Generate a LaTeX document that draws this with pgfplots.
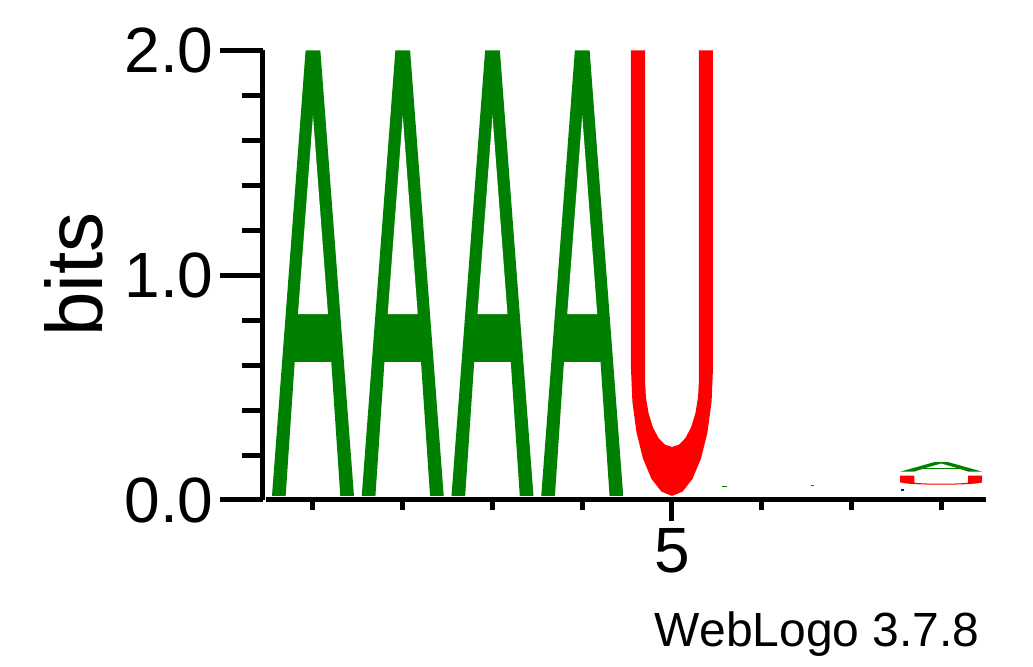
\documentclass[border=0pt]{standalone}
\usepackage{fontspec}
\setmainfont{Liberation Sans}
\usepackage{pgfplots}
\usepackage{pgfplotstable}
\pgfplotsset{compat=1.18}
\definecolor{wlgreen}{RGB}{0,128,0}
\definecolor{wlred}{RGB}{255,0,0}
\definecolor{wlblue}{RGB}{0,0,255}

% glyph outlines in letter-relative units (u across, v up)
\pgfplotstableread{
u v
0 0
0.167 0
0.277 0.301
0.723 0.301
0.833 0
1 0
0.59 1
0.41 1
}\glyphAout
\pgfplotstableread{
u v
0.317 0.408
0.683 0.408
0.5 0.854
}\glyphAhole
\pgfplotstableread{
u v
0 1
0 0.286
0.0170 0.2120
0.0670 0.1430
0.1464 0.0838
0.25 0.0383
0.3706 0.0098
0.5 0
0.6294 0.0098
0.75 0.0383
0.8536 0.0838
0.933 0.1430
0.983 0.2120
1 0.286
1 1
0.829 1
0.829 0.26
0.8178 0.2212
0.7849 0.185
0.7326 0.1539
0.6645 0.1301
0.5851 0.1151
0.5 0.11
0.4149 0.1151
0.3355 0.1301
0.2674 0.1539
0.2151 0.185
0.1822 0.2212
0.171 0.26
0.171 1
}\glyphU

\begin{document}
\begin{tikzpicture}[x=1pt,y=1pt]
\path[use as bounding box] (0,0) rectangle (516.5,333.5);
% y axis and letters
\begin{axis}[
  at={(131.25pt,83.5pt)}, anchor=south west,
  scale only axis, width=361.8pt, height=224.75pt,
  xmin=0.4375, xmax=8.5, ymin=0, ymax=2,
  clip=false, no markers,
  axis x line=none, axis y line*=left,
  y axis line style={-, line width=2.5pt, black},
  ytick={0,1,2}, yticklabels={0.0,1.0,2.0},
  minor ytick={0.2,0.4,0.6,0.8,1.2,1.4,1.6,1.8},
  tick align=outside,
  major tick length=21pt, minor tick length=10.5pt,
  every tick/.style={line width=2.5pt, black},
  yticklabel style={anchor=east, font=\fontsize{32}{38}\selectfont},
]
\addplot[fill=wlgreen, draw=none] table[x expr=\thisrow{u}*0.9137+0.54315, y expr=\thisrow{v}*1.982+0.018]{\glyphAout};
\addplot[fill=white, draw=none] table[x expr=\thisrow{u}*0.9137+0.54315, y expr=\thisrow{v}*1.982+0.018]{\glyphAhole};
\addplot[fill=wlgreen, draw=none] table[x expr=\thisrow{u}*0.9137+1.54315, y expr=\thisrow{v}*1.982+0.018]{\glyphAout};
\addplot[fill=white, draw=none] table[x expr=\thisrow{u}*0.9137+1.54315, y expr=\thisrow{v}*1.982+0.018]{\glyphAhole};
\addplot[fill=wlgreen, draw=none] table[x expr=\thisrow{u}*0.9137+2.54315, y expr=\thisrow{v}*1.982+0.018]{\glyphAout};
\addplot[fill=white, draw=none] table[x expr=\thisrow{u}*0.9137+2.54315, y expr=\thisrow{v}*1.982+0.018]{\glyphAhole};
\addplot[fill=wlgreen, draw=none] table[x expr=\thisrow{u}*0.9137+3.54315, y expr=\thisrow{v}*1.982+0.018]{\glyphAout};
\addplot[fill=white, draw=none] table[x expr=\thisrow{u}*0.9137+3.54315, y expr=\thisrow{v}*1.982+0.018]{\glyphAhole};
\addplot[fill=wlred, draw=none] table[x expr=\thisrow{u}*0.9137+4.54315, y expr=\thisrow{v}*1.982+0.018]{\glyphU};
% tiny letters at positions 6-8
\addplot[fill=wlgreen, draw=none] coordinates {(5.557,0.059) (5.613,0.059) (5.613,0.064) (5.557,0.064)};
\addplot[fill=wlred, draw=none] coordinates {(6.549,0.0636) (6.581,0.0636) (6.581,0.068) (6.549,0.068)};
\addplot[fill=wlblue, draw=none] coordinates {(7.552,0.038) (7.586,0.038) (7.586,0.047) (7.552,0.047)};
\addplot[fill=wlred, draw=none] table[x expr=\thisrow{u}*0.9137+7.54315, y expr=\thisrow{v}*0.040+0.068]{\glyphU};
\addplot[fill=wlgreen, draw=none] table[x expr=\thisrow{u}*0.9137+7.54315, y expr=\thisrow{v}*0.042+0.126]{\glyphAout};
\addplot[fill=white, draw=none] table[x expr=\thisrow{u}*0.9137+7.54315, y expr=\thisrow{v}*0.042+0.126]{\glyphAhole};
\end{axis}
% x axis
\begin{axis}[
  at={(132.85pt,83.5pt)}, anchor=south west,
  scale only axis, width=360.2pt, height=224.75pt,
  xmin=0.473, xmax=8.5, ymin=0, ymax=2,
  axis y line=none, axis x line*=bottom,
  x axis line style={-, line width=2.5pt, black},
  xtick={5}, xticklabels={5},
  minor xtick={1,2,3,4,6,7,8},
  tick align=outside,
  major tick length=10.5pt, minor tick length=5.25pt,
  every tick/.style={line width=2.5pt, black},
  xticklabel style={anchor=north, font=\fontsize{32}{38}\selectfont},
]
\end{axis}
\node[rotate=90, anchor=base, font=\fontsize{40}{48}\selectfont, inner sep=0pt] at (51,196.25) {bits};
\node[anchor=base east, font=\fontsize{24}{29}\selectfont, inner sep=0pt] at (490,10) {WebLogo 3.7.8};
\end{tikzpicture}
\end{document}
